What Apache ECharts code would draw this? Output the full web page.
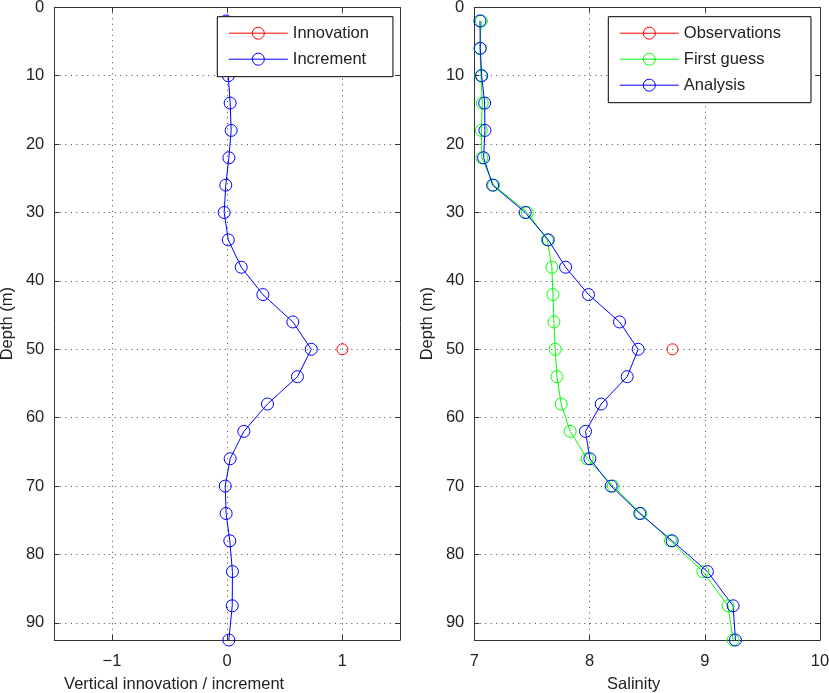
<!DOCTYPE html>
<html>
<head>
<meta charset="utf-8">
<script src="https://cdn.jsdelivr.net/npm/echarts@6/dist/echarts.min.js"></script>
<style>
html,body{margin:0;padding:0;background:#fff;}
#chart{width:829px;height:693px;}
</style>
</head>
<body>
<div id="chart"></div>
<script>
// ---- data ----
var depth = [2, 6, 10, 14, 18, 22, 26, 30, 34, 38, 42, 46, 50, 54, 58, 62, 66, 70, 74, 78, 82.5, 87.5, 92.5];
var increment = [-0.01, 0.0, 0.01, 0.026, 0.035, 0.015, -0.012, -0.026, 0.01, 0.122, 0.31, 0.57, 0.73, 0.61, 0.35, 0.145, 0.026, -0.017, -0.009, 0.023, 0.046, 0.044, 0.015];
var innovationDepth = [50];
var innovation = [1.0];
var firstGuess = [7.061, 7.049, 7.058, 7.069, 7.061, 7.066, 7.168, 7.46, 7.633, 7.673, 7.682, 7.691, 7.702, 7.717, 7.754, 7.832, 7.98, 8.205, 8.445, 8.702, 8.983, 9.202, 9.246];
var analysis = [7.049, 7.052, 7.064, 7.09, 7.092, 7.081, 7.159, 7.442, 7.642, 7.792, 7.991, 8.26, 8.422, 8.327, 8.101, 7.965, 8.003, 8.188, 8.436, 8.717, 9.023, 9.246, 9.266];
var obsDepth = [50];
var observations = [8.72];
var leftTicks = [-1, 0, 1];
var depthMax = 92.5;

function pairs(xs, ys) { return xs.map(function (v, i) { return [v, ys[i]]; }); }

var FONT = '"Liberation Sans", Arial, Helvetica, sans-serif';
var FS = 16.5;
var AX = '#333';
var TXT = '#222';
var gridLine = { show: true, lineStyle: { color: '#333', width: 0.9, type: [1, 4.5] } };

function fmt(v) { return v < 0 ? '\u2212' + Math.abs(v) : String(v); }

function xAx(grid, pos, isLeft, name, namePad) {
  var a = {
    type: 'value', gridIndex: grid, position: pos,
    min: isLeft ? -1.5 : 7, max: isLeft ? 1.5 : 10,
    axisLine: { show: true, onZero: false, lineStyle: { color: AX, width: 1 } },
    axisTick: { show: true, inside: true, length: 5, lineStyle: { color: AX } },
    axisLabel: { show: pos === 'bottom', margin: 13, color: TXT, fontSize: FS, fontFamily: FONT, formatter: fmt },
    splitLine: pos === 'bottom' ? gridLine : { show: false }
  };
  if (isLeft) {
    a.axisTick.customValues = leftTicks;
    a.axisLabel.customValues = leftTicks;
    if (pos === 'bottom') a.splitLine = Object.assign({}, gridLine, { customValues: leftTicks });
  } else {
    a.interval = 1;
  }
  if (name) {
    a.name = name; a.nameLocation = 'middle'; a.nameGap = 36;
    a.nameTextStyle = { color: TXT, fontSize: FS, fontFamily: FONT, padding: namePad };
  }
  return a;
}

function yAx(grid, pos, withName) {
  var a = {
    type: 'value', gridIndex: grid, position: pos, inverse: true,
    min: 0, max: depthMax, interval: 10,
    axisLine: { show: true, onZero: false, lineStyle: { color: AX, width: 1 } },
    axisTick: { show: true, inside: true, length: 5, lineStyle: { color: AX } },
    axisLabel: { show: pos === 'left', margin: 10, color: TXT, fontSize: FS, fontFamily: FONT, showMaxLabel: false },
    splitLine: pos === 'left' ? gridLine : { show: false }
  };
  if (withName) {
    a.name = 'Depth (m)'; a.nameLocation = 'middle'; a.nameGap = 38;
    a.nameTextStyle = { color: TXT, fontSize: FS, fontFamily: FONT };
  }
  return a;
}

function ser(name, xi, yi, data, color, size) {
  return {
    name: name, type: 'line', xAxisIndex: xi, yAxisIndex: yi, data: data,
    color: color, symbol: 'circle', symbolSize: size, showAllSymbol: true, clip: false,
    lineStyle: { color: color, width: 1 },
    itemStyle: { color: 'rgba(255,255,255,0)', borderColor: color, borderWidth: 1 },
    emphasis: { disabled: true }
  };
}

function legend(names, left, pad) {
  return {
    data: names, orient: 'vertical', left: left, top: 16.7, z: 10,
    selectedMode: false, backgroundColor: '#fff', borderColor: '#000', borderWidth: 1,
    padding: pad, itemWidth: 59, itemHeight: 15, itemGap: 9,
    lineStyle: { width: 1 },
    itemStyle: { borderWidth: 1 },
    textStyle: { color: TXT, fontSize: FS, fontFamily: FONT }
  };
}

var chart = echarts.init(document.getElementById('chart'));
chart.setOption({
  animation: false,
  backgroundColor: '#fff',
  grid: [
    { left: 54.3, top: 7.3, width: 345.7, height: 632.7, containLabel: false, outerBoundsMode: 'none' },
    { left: 474.3, top: 7.3, width: 345.7, height: 632.7, containLabel: false, outerBoundsMode: 'none' }
  ],
  xAxis: [
    xAx(0, 'bottom', true, 'Vertical innovation / increment', [0, 106, 0, 0]),
    xAx(0, 'top', true),
    xAx(1, 'bottom', false, 'Salinity', [0, 27, 0, 0]),
    xAx(1, 'top', false)
  ],
  yAxis: [
    yAx(0, 'left', true),
    yAx(0, 'right', false),
    yAx(1, 'left', true),
    yAx(1, 'right', false)
  ],
  legend: [
    legend(['Innovation', 'Increment'], 217.3, [8, 24, 9, 11]),
    legend(['Observations', 'First guess', 'Analysis'], 608.3, [8, 30, 9, 11])
  ],
  series: [
    ser('Innovation', 0, 0, pairs(innovation, innovationDepth), '#ff0000', 11),
    ser('Increment', 0, 0, pairs(increment, depth), '#0000ff', 12),
    ser('Observations', 2, 2, pairs(observations, obsDepth), '#ff0000', 11),
    ser('First guess', 2, 2, pairs(firstGuess, depth), '#00ff00', 12),
    ser('Analysis', 2, 2, pairs(analysis, depth), '#0000ff', 12)
  ]
});
</script>
</body>
</html>
